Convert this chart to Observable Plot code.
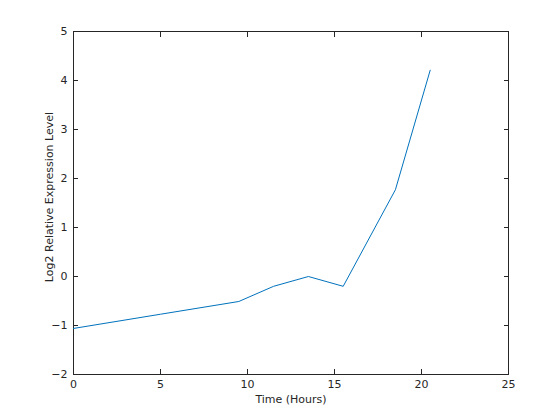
<!DOCTYPE html>
<html><head><meta charset="utf-8">
<script src="https://cdn.jsdelivr.net/npm/d3@7"></script>
<script src="https://cdn.jsdelivr.net/npm/@observablehq/plot@0.6"></script>
<style>body{margin:0;background:#fff}</style>
</head><body><div id="chart"></div>
<script>
const hours = [0, 5, 9.5, 11.5, 13.5, 15.5, 18.5, 20.5];
const log2Level = [-1.06, -0.77, -0.51, -0.2, 0, -0.2, 1.77, 4.21];
const xTicks = [0, 5, 10, 15, 20, 25];
const yTicks = [-2, -1, 0, 1, 2, 3, 4, 5];
const xLabel = "Time (Hours)";
const yLabel = "Log2 Relative Expression Level";
const data = hours.map((h, i) => ({h, v: log2Level[i]}));
const ink = "#262626";
const chart = Plot.plot({
  width: 560, height: 420,
  marginLeft: 73, marginRight: 52, marginTop: 31, marginBottom: 46,
  style: {fontFamily: "DejaVu Sans, sans-serif", fontSize: "11px", color: ink, background: "#fff"},
  x: {domain: [0, 25]},
  y: {domain: [-2, 5]},
  marks: [
    Plot.frame({stroke: ink}),
    Plot.axisX({ticks: xTicks, tickFormat: "d", tickSize: -5, tickPadding: 11, stroke: ink, fill: ink, label: xLabel, labelAnchor: "center", labelArrow: "none", labelOffset: 28}),
    Plot.axisX({anchor: "top", ticks: xTicks, tickSize: -5, tickFormat: () => "", stroke: ink, label: null}),
    Plot.axisY({ticks: yTicks, tickFormat: "d", tickSize: -5, tickPadding: 11, stroke: ink, fill: ink, label: null}),
    Plot.axisY({anchor: "right", ticks: yTicks, tickSize: -5, tickFormat: () => "", stroke: ink, label: null}),
    Plot.text([yLabel], {text: d => d, frameAnchor: "left", rotate: -90, dx: -28, dy: -6, textAnchor: "middle", lineAnchor: "top", fill: ink, fontSize: 11}),
    Plot.line(data, {x: "h", y: "v", stroke: "#0072BD", strokeWidth: 1})
  ]
});
document.getElementById("chart").append(chart);
</script></body></html>
